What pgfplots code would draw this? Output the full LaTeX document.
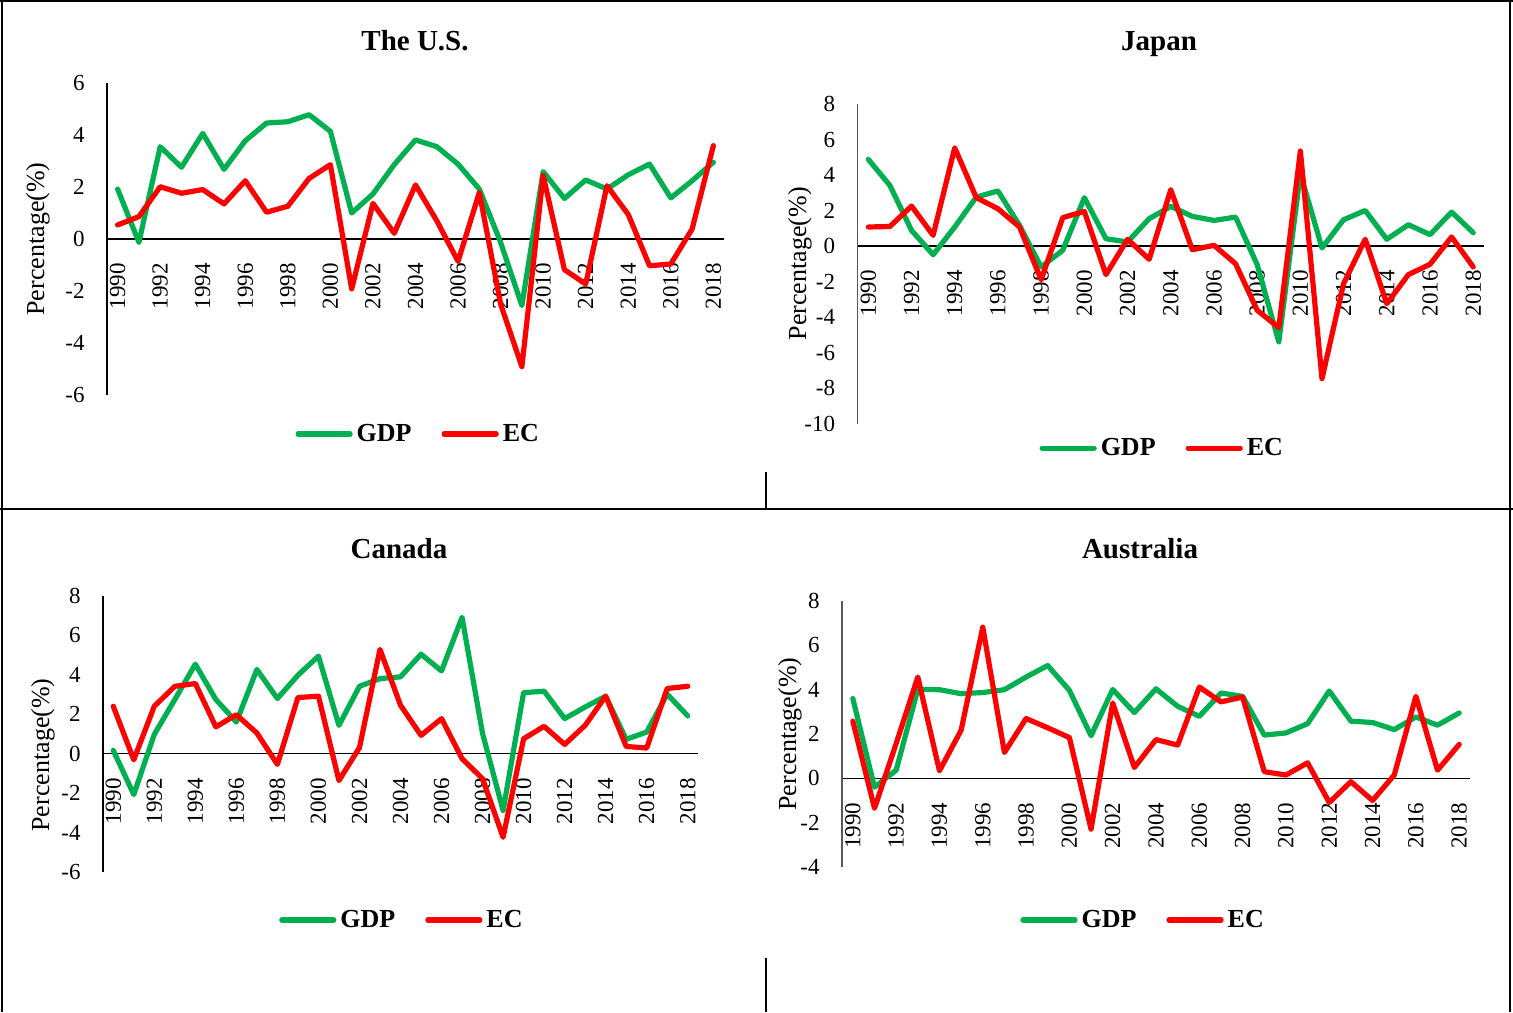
\documentclass[border=0pt]{standalone}
\usepackage{fontspec}
\setmainfont{Liberation Serif}
\usepackage{pgfplots}
\usepackage{pgfplotstable}
\pgfplotsset{compat=1.18}
\definecolor{gdpgreen}{HTML}{00B050}
\definecolor{ecred}{HTML}{FF0000}
\definecolor{axgray}{HTML}{595959}

\pgfplotstableread{
year gdp ec
1990 1.92 0.54
1991 -0.13 0.86
1992 3.55 2.01
1993 2.76 1.76
1994 4.06 1.90
1995 2.68 1.35
1996 3.78 2.24
1997 4.46 1.03
1998 4.51 1.26
1999 4.78 2.33
2000 4.14 2.86
2001 1.00 -1.92
2002 1.73 1.37
2003 2.86 0.22
2004 3.81 2.08
2005 3.55 0.70
2006 2.88 -0.86
2007 1.92 1.79
2008 -0.13 -2.50
2009 -2.56 -4.91
2010 2.59 2.44
2011 1.56 -1.18
2012 2.27 -1.73
2013 1.92 2.05
2014 2.47 0.94
2015 2.88 -1.03
2016 1.58 -0.96
2017 2.24 0.38
2018 2.95 3.59
}\us

\pgfplotstableread{
year gdp ec
1990 4.88 1.07
1991 3.41 1.10
1992 0.88 2.25
1993 -0.49 0.60
1994 1.07 5.53
1995 2.76 2.72
1996 3.10 2.10
1997 1.16 1.07
1998 -1.18 -1.90
1999 -0.24 1.60
2000 2.72 1.95
2001 0.41 -1.61
2002 0.23 0.38
2003 1.54 -0.75
2004 2.23 3.17
2005 1.67 -0.21
2006 1.44 0.04
2007 1.63 -1.00
2008 -1.05 -3.62
2009 -5.40 -4.60
2010 4.07 5.35
2011 -0.11 -7.47
2012 1.48 -2.12
2013 2.00 0.38
2014 0.38 -3.25
2015 1.20 -1.61
2016 0.64 -1.03
2017 1.91 0.51
2018 0.75 -1.18
}\jp

\pgfplotstableread{
year gdp ec
1990 0.17 2.41
1991 -2.07 -0.31
1992 0.98 2.41
1993 2.75 3.42
1994 4.54 3.56
1995 2.75 1.36
1996 1.61 1.98
1997 4.27 1.05
1998 2.80 -0.54
1999 3.98 2.85
2000 4.95 2.92
2001 1.44 -1.36
2002 3.42 0.31
2003 3.81 5.29
2004 3.90 2.46
2005 5.05 0.93
2006 4.20 1.78
2007 6.92 -0.25
2008 1.02 -1.27
2009 -2.88 -4.24
2010 3.10 0.76
2011 3.17 1.39
2012 1.78 0.47
2013 2.37 1.44
2014 2.92 2.92
2015 0.73 0.37
2016 1.10 0.29
2017 3.02 3.31
2018 1.92 3.42
}\ca

\pgfplotstableread{
year gdp ec
1990 3.60 2.58
1991 -0.40 -1.35
1992 0.37 1.57
1993 4.01 4.57
1994 4.00 0.34
1995 3.82 2.17
1996 3.87 6.82
1997 4.00 1.17
1998 4.57 2.70
1999 5.09 2.28
2000 3.97 1.84
2001 1.92 -2.29
2002 4.01 3.40
2003 2.97 0.49
2004 4.04 1.75
2005 3.25 1.50
2006 2.80 4.12
2007 3.85 3.45
2008 3.70 3.67
2009 1.95 0.30
2010 2.05 0.15
2011 2.47 0.70
2012 3.94 -1.09
2013 2.58 -0.15
2014 2.52 -1.00
2015 2.20 0.15
2016 2.77 3.70
2017 2.40 0.37
2018 2.95 1.53
}\au

\pgfplotsset{
  panel/.style={
    scale only axis,
    axis x line*=middle,
    axis y line*=left,
    xmin=1989.5, xmax=2018.5,
    xtick={1990,1992,...,2018},
    major tick length=0pt,
    /pgf/number format/assume math mode=true,
    /pgf/number format/1000 sep={},
    tick label style={font=\fontsize{11.5}{13}\selectfont, inner sep=0pt},
    xticklabel style={rotate=90, anchor=east},
    xticklabel shift=12pt,
    yticklabel shift=11pt,
    ylabel={Percentage(\%)},
    every inner x axis line/.append style={line width=0.75pt, black},
    legend columns=2,
    legend style={draw=none, fill=none, anchor=center,
      font=\bfseries\fontsize{13}{15}\selectfont,
      /tikz/every even column/.append style={column sep=13pt}},
    legend image code/.code={\draw[#1] (0pt,0pt) -- (26pt,0pt);},
    clip=false,
  },
  ylab/.style 2 args={every axis y label/.style={at={(rel axis cs:0,#2)}, xshift=-#1, rotate=90, anchor=center, font=\fontsize{13}{15}\selectfont}},
  gdp/.style={gdpgreen, line width=2.6pt, line join=round, line cap=round},
  ec/.style={ecred, line width=2.6pt, line join=round, line cap=round},
}

\begin{document}
\begin{tikzpicture}
\path[use as bounding box] (0,0) rectangle (756.5pt,-506pt);
% frame lines
\draw[line width=1pt] (0,-0.5pt) -- (756.5pt,-0.5pt);
\draw[line width=1pt] (1pt,0) -- (1pt,-506pt);
\draw[line width=1pt] (755pt,0) -- (755pt,-506pt);
\draw[line width=1pt] (0,-254.5pt) -- (756.5pt,-254.5pt);
\draw[line width=0.75pt] (383pt,-236pt) -- (383pt,-254pt);
\draw[line width=0.75pt] (383pt,-479pt) -- (383pt,-506pt);

% titles
\node[anchor=base, font=\bfseries\fontsize{14.5}{17}\selectfont] at (207.5pt,-25pt) {The U.S.};
\node[anchor=base, font=\bfseries\fontsize{14.5}{17}\selectfont] at (579.5pt,-25pt) {Japan};
\node[anchor=base, font=\bfseries\fontsize{14.5}{17}\selectfont] at (199.5pt,-279pt) {Canada};
\node[anchor=base, font=\bfseries\fontsize{14.5}{17}\selectfont] at (570pt,-279pt) {Australia};

% The U.S.
\begin{axis}[panel, at={(53.5pt,-197.5pt)}, anchor=south west,
  width=308.5pt, height=156pt, ymin=-6, ymax=6, ytick={-6,-4,...,6},
  every outer y axis line/.append style={line width=0.75pt, black},
  ylab={34.5pt}{0.5},
  legend style={at={(0.506,-0.125)}}]
\addplot[gdp] table[x=year,y=gdp] {\us};
\addplot[ec] table[x=year,y=ec] {\us};
\legend{GDP,EC}
\end{axis}

% Japan
\begin{axis}[panel, at={(428.75pt,-211.75pt)}, anchor=south west,
  width=313.25pt, height=159.75pt, ymin=-10, ymax=8, ytick={-10,-8,...,8},
  every outer y axis line/.append style={line width=0.75pt, axgray},
  ylab={28.75pt}{0.5},
  legend style={at={(0.488,-0.077)}}]
\addplot[gdp] table[x=year,y=gdp] {\jp};
\addplot[ec] table[x=year,y=ec] {\jp};
\legend{GDP,EC}
\end{axis}

% Canada
\begin{axis}[panel, at={(51.5pt,-436pt)}, anchor=south west,
  width=297.5pt, height=138pt, ymin=-6, ymax=8, ytick={-6,-4,...,8},
  every outer y axis line/.append style={line width=0.75pt, black},
  ylab={30pt}{0.424},
  legend style={at={(0.504,-0.174)}}]
\addplot[gdp] table[x=year,y=gdp] {\ca};
\addplot[ec] table[x=year,y=ec] {\ca};
\legend{GDP,EC}
\end{axis}

% Australia
\begin{axis}[panel, at={(421pt,-433.5pt)}, anchor=south west,
  width=314pt, height=133pt, ymin=-4, ymax=8, ytick={-4,-2,...,8},
  every outer y axis line/.append style={line width=0.75pt, axgray},
  ylab={26pt}{0.5},
  legend style={at={(0.481,-0.199)}}]
\addplot[gdp] table[x=year,y=gdp] {\au};
\addplot[ec] table[x=year,y=ec] {\au};
\legend{GDP,EC}
\end{axis}
\end{tikzpicture}
\end{document}
